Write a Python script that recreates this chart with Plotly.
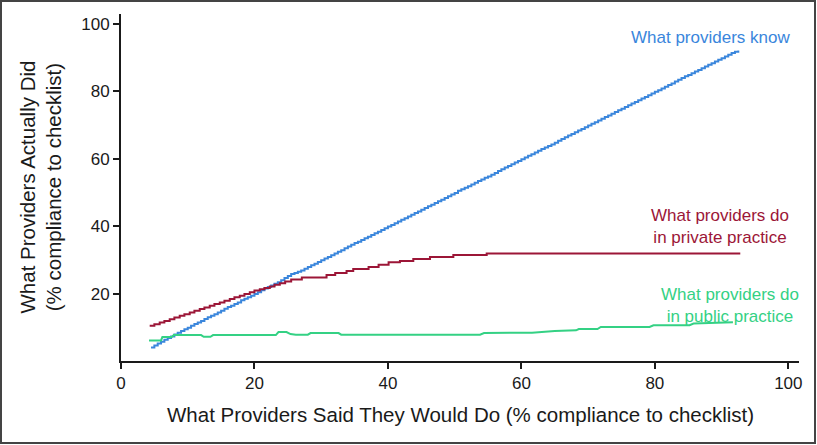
import plotly.graph_objects as go

# ---- data ----
know_x = [4.5, 5, 5.5, 6, 6.5, 7, 7.5, 8, 8.5, 9,
          9.5, 10, 10.5, 11, 11.5, 12, 12.5, 13, 13.5, 14,
          14.5, 15, 15.5, 16, 16.5, 17, 17.5, 18, 18.5, 19,
          19.5, 20, 20.5, 21, 21.5, 22, 22.5, 23, 23.5, 24,
          24.5, 25, 25.5, 26, 26.5, 27, 27.5, 28, 28.5, 29,
          29.5, 30, 30.5, 31, 31.5, 32, 32.5, 33, 33.5, 34,
          34.5, 35, 35.5, 36, 36.5, 37, 37.5, 38, 38.5, 39,
          39.5, 40, 40.5, 41, 41.5, 42, 42.5, 43, 43.5, 44,
          44.5, 45, 45.5, 46, 46.5, 47, 47.5, 48, 48.5, 49,
          49.5, 50, 50.5, 51, 51.5, 52, 52.5, 53, 53.5, 54,
          54.5, 55, 55.5, 56, 56.5, 57, 57.5, 58, 58.5, 59,
          59.5, 60, 60.5, 61, 61.5, 62, 62.5, 63, 63.5, 64,
          64.5, 65, 65.5, 66, 66.5, 67, 67.5, 68, 68.5, 69,
          69.5, 70, 70.5, 71, 71.5, 72, 72.5, 73, 73.5, 74,
          74.5, 75, 75.5, 76, 76.5, 77, 77.5, 78, 78.5, 79,
          79.5, 80, 80.5, 81, 81.5, 82, 82.5, 83, 83.5, 84,
          84.5, 85, 85.5, 86, 86.5, 87, 87.5, 88, 88.5, 89,
          89.5, 90, 90.5, 91, 91.5, 92, 92.5]
know_y = [4.0, 4.6, 5.2, 5.7, 6.3, 6.8, 7.3, 7.9, 8.4, 8.9,
          9.4, 9.9, 10.5, 11.0, 11.4, 11.9, 12.5, 13.0, 13.4, 13.9,
          14.4, 14.9, 15.5, 16.0, 16.4, 16.9, 17.4, 18.0, 18.5, 18.9,
          19.4, 19.9, 20.4, 21.0, 21.5, 22.0, 22.4, 22.9, 23.4, 24.0,
          24.6, 25.2, 25.8, 26.1, 26.5, 26.9, 27.4, 27.9, 28.4, 28.9,
          29.4, 29.9, 30.4, 30.9, 31.4, 31.9, 32.4, 32.9, 33.5, 34.0,
          34.5, 35.0, 35.4, 35.9, 36.4, 36.9, 37.4, 37.9, 38.4, 38.9,
          39.4, 39.9, 40.4, 40.9, 41.4, 41.9, 42.4, 42.9, 43.4, 43.9,
          44.4, 44.9, 45.4, 45.9, 46.4, 46.9, 47.4, 47.9, 48.4, 48.9,
          49.4, 49.9, 50.5, 51.0, 51.4, 51.9, 52.4, 52.9, 53.4, 53.9,
          54.4, 54.8, 55.3, 55.8, 56.4, 56.9, 57.4, 57.9, 58.4, 58.9,
          59.4, 59.9, 60.4, 60.9, 61.4, 61.9, 62.4, 62.9, 63.4, 63.8,
          64.3, 64.8, 65.4, 65.9, 66.4, 66.9, 67.4, 67.9, 68.4, 68.9,
          69.4, 69.9, 70.4, 70.9, 71.4, 71.9, 72.4, 72.9, 73.4, 73.9,
          74.4, 74.9, 75.4, 75.9, 76.4, 76.9, 77.4, 77.9, 78.4, 78.9,
          79.4, 79.9, 80.4, 80.9, 81.4, 81.9, 82.4, 83.0, 83.5, 84.0,
          84.5, 84.9, 85.4, 85.9, 86.4, 86.9, 87.4, 87.9, 88.4, 88.9,
          89.4, 89.9, 90.4, 90.9, 91.4, 91.8, 92.2]

private_x = [4.3, 5.0, 5.8, 6.5, 7.3, 8.0, 8.8, 9.5, 10.3, 11.0, 11.8, 12.5,
             13.3, 14.0, 14.8, 15.5, 16.3, 17.0, 17.8, 18.5, 19.3, 20.0, 20.8,
             21.5, 22.3, 23.0, 23.8, 24.6, 25.5, 27.1, 30.8, 32.1, 33.8, 34.8,
             37.1, 38.6, 40.1, 41.8, 43.8, 46.3, 49.8, 54.8, 92.8]
private_y = [10.5, 10.9, 11.4, 11.9, 12.4, 12.9, 13.4, 13.9, 14.4, 14.9, 15.4, 15.9,
             16.4, 16.9, 17.4, 17.9, 18.4, 18.9, 19.4, 19.9, 20.4, 20.9, 21.3,
             21.7, 22.1, 22.6, 23.1, 23.6, 24.2, 24.8, 25.5, 26.1, 26.7, 27.3,
             27.9, 28.6, 29.3, 29.7, 30.3, 30.9, 31.5, 31.9, 31.9]

public_x = [4.2, 6.0, 6.2, 7.6, 7.9, 12.0, 12.4, 13.4, 13.8, 23.2, 23.6, 24.8,
            25.4, 26.2, 28.0, 28.4, 32.6, 33.0, 53.8, 54.4, 61.6, 65.0, 68.2,
            68.6, 71.4, 71.9, 79.2, 79.8, 85.2, 85.8, 91.7]
public_y = [6.1, 6.1, 7.1, 7.1, 7.7, 7.7, 7.2, 7.2, 7.7, 7.7, 8.6, 8.6,
            8.0, 7.8, 7.8, 8.3, 8.3, 7.8, 7.8, 8.3, 8.4, 8.9, 9.1,
            9.5, 9.5, 10.1, 10.1, 10.6, 10.6, 11.1, 11.5]

tick_vals = [0, 20, 40, 60, 80, 100]
y_tick_vals = [20, 40, 60, 80, 100]

BLUE = "#3a86dc"
RED = "#9c1637"
GREEN = "#34d184"
FONT = "Liberation Sans"
INK = "#1a1a1a"

fig = go.Figure()
fig.add_trace(go.Scatter(x=know_x, y=know_y, mode="lines", line=dict(color=BLUE, width=2, shape="hv"),
                         name="What providers know"))
fig.add_trace(go.Scatter(x=private_x, y=private_y, mode="lines", line=dict(color=RED, width=2, shape="hv"),
                         name="What providers do in private practice"))
fig.add_trace(go.Scatter(x=public_x, y=public_y, mode="lines", line=dict(color=GREEN, width=2, shape="linear"),
                         name="What providers do in public practice"))

axis_common = dict(showgrid=False, zeroline=False, showline=True, linecolor=INK, linewidth=2,
                   ticks="outside", ticklen=6, tickwidth=1.5, tickcolor=INK,
                   tickfont=dict(family=FONT, size=17, color=INK))
fig.update_xaxes(range=[0, 101.6], tickvals=tick_vals, **axis_common)
fig.update_yaxes(range=[0, 103], tickvals=y_tick_vals, **axis_common)

ann = [
    dict(text="What providers know", x=100.6, y=95.9, xref="x", yref="y", xanchor="right", yanchor="middle",
         showarrow=False, font=dict(family=FONT, size=17, color=BLUE)),
    dict(text="What providers do<br>in private practice", x=89.7, y=40.0, xref="x", yref="y",
         xanchor="center", yanchor="middle", align="center", showarrow=False,
         font=dict(family=FONT, size=17, color=RED)),
    dict(text="What providers do<br>in public practice", x=91.3, y=16.5, xref="x", yref="y",
         xanchor="center", yanchor="middle", align="center", showarrow=False,
         font=dict(family=FONT, size=17, color=GREEN)),
    dict(text="What Providers Actually Did<br>(% compliance to checklist)", x=0, y=0.5,
         xref="paper", yref="paper", xanchor="center", yanchor="middle", xshift=-81, textangle=-90,
         showarrow=False, font=dict(family=FONT, size=20.5, color=INK)),
    dict(text="What Providers Said They Would Do (% compliance to checklist)", x=0.5, y=0,
         xref="paper", yref="paper", xanchor="center", yanchor="middle", yshift=-53,
         showarrow=False, font=dict(family=FONT, size=20.5, color=INK)),
]

W, H = 817, 445
L, R, T, B = 121, 18, 14, 84
pw, ph = W - L - R, H - T - B
frame = dict(type="rect", xref="paper", yref="paper",
             x0=(1 - L) / pw, x1=(W - 2 - L) / pw,
             y0=(H - B - (H - 2)) / ph, y1=(H - B - 1) / ph,
             line=dict(color="#444444", width=2), layer="above")

fig.update_layout(width=W, height=H, margin=dict(l=L, r=R, t=T, b=B),
                  plot_bgcolor="white", paper_bgcolor="white", showlegend=False,
                  annotations=ann, shapes=[frame])

fig.write_html("out.html", config={"displayModeBar": False},
               post_script="document.body.style.margin='0';document.body.style.overflow='hidden';")
